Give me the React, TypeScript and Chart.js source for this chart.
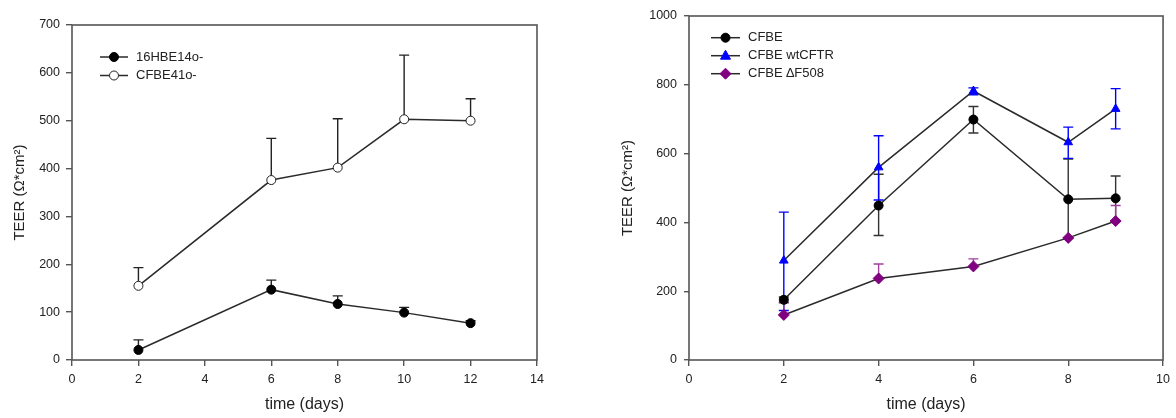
import React, { useEffect, useRef } from "react";
import { Chart, registerables } from "chart.js";

Chart.register(...registerables);

// ---------- data ----------
const leftDays = [2, 6, 8, 10, 12];
const hbeMean = [21, 147, 117, 99, 77];
const hbeErrUp = [21, 20, 17, 11, 5];
const cfbe41Mean = [155, 376, 402, 503, 500];
const cfbe41ErrUp = [38, 87, 102, 134, 46];
const leftXTicks = [0, 2, 4, 6, 8, 10, 12, 14];
const leftYTicks = [0, 100, 200, 300, 400, 500, 600, 700];

const rightDays = [2, 4, 6, 8, 9];
const cfbeMean = [175, 449, 699, 467, 470];
const cfbeErrUp = [8, 91, 38, 117, 65];
const cfbeErrDown = [8, 87, 39, 112, 65];
const wtMean = [289, 560, 782, 633, 730];
const wtErrUp = [141, 92, 9, 44, 59];
const wtErrDown = [145, 95, 11, 47, 58];
const dfMean = [131, 237, 272, 355, 404];
const dfErrUp = [35, 42, 22, 0, 45];
const rightXTicks = [0, 2, 4, 6, 8, 10];
const rightYTicks = [0, 200, 400, 600, 800, 1000];

const FONT = "'Liberation Sans', Arial, sans-serif";
const AXIS_COLOR = "#555";
const TEXT_COLOR = "#222";
const LINE_COLOR = "#2a2a2a";

function toPoints(xs: number[], ys: number[]) {
  return xs.map((x, i) => ({ x, y: ys[i] }));
}

function drawMarker(ctx: CanvasRenderingContext2D, style: string, x: number, y: number, r: number, fill: string, stroke: string) {
  ctx.save();
  ctx.beginPath();
  if (style === "circle") {
    ctx.arc(x, y, r, 0, Math.PI * 2);
  } else if (style === "triangle") {
    ctx.moveTo(x, y - r * 1.1);
    ctx.lineTo(x + r, y + r * 0.7);
    ctx.lineTo(x - r, y + r * 0.7);
    ctx.closePath();
  } else {
    ctx.moveTo(x, y - r);
    ctx.lineTo(x + r, y);
    ctx.lineTo(x, y + r);
    ctx.lineTo(x - r, y);
    ctx.closePath();
  }
  ctx.fillStyle = fill;
  ctx.fill();
  ctx.lineWidth = 1;
  ctx.strokeStyle = stroke;
  ctx.stroke();
  ctx.restore();
}

const errorBarPlugin = {
  id: "errorBars",
  beforeDatasetsDraw(chart: any) {
    const ctx = chart.ctx;
    const xs = chart.scales.x;
    const ys = chart.scales.y;
    chart.data.datasets.forEach((ds: any) => {
      const up: number[] = ds.errUp || [];
      const down: number[] = ds.errDown || [];
      ctx.save();
      ctx.strokeStyle = ds.errColor || LINE_COLOR;
      ctx.lineWidth = 1.4;
      ds.data.forEach((p: any, i: number) => {
        const px = xs.getPixelForValue(p.x);
        const py = ys.getPixelForValue(p.y);
        const cap = 5;
        if (up[i]) {
          const ty = ys.getPixelForValue(p.y + up[i]);
          ctx.beginPath();
          ctx.moveTo(px, py);
          ctx.lineTo(px, ty);
          ctx.moveTo(px - cap, ty);
          ctx.lineTo(px + cap, ty);
          ctx.stroke();
        }
        if (down[i]) {
          const by = ys.getPixelForValue(p.y - down[i]);
          ctx.beginPath();
          ctx.moveTo(px, py);
          ctx.lineTo(px, by);
          ctx.moveTo(px - cap, by);
          ctx.lineTo(px + cap, by);
          ctx.stroke();
        }
      });
      ctx.restore();
    });
  },
};

const framePlugin = {
  id: "frame",
  beforeDatasetsDraw(chart: any) {
    const { ctx, chartArea } = chart;
    ctx.save();
    ctx.strokeStyle = AXIS_COLOR;
    ctx.lineWidth = 1.6;
    ctx.strokeRect(chartArea.left, chartArea.top, chartArea.right - chartArea.left, chartArea.bottom - chartArea.top);
    ctx.restore();
  },
};

const legendPlugin = {
  id: "customLegend",
  afterDraw(chart: any, _args: any, opts: any) {
    const { ctx, chartArea } = chart;
    const x0 = chartArea.left + opts.dx;
    let y = chartArea.top + opts.dy;
    ctx.save();
    ctx.font = `13px ${FONT}`;
    ctx.textBaseline = "middle";
    ctx.textAlign = "left";
    chart.data.datasets.forEach((ds: any) => {
      ctx.strokeStyle = LINE_COLOR;
      ctx.lineWidth = 1.5;
      ctx.beginPath();
      ctx.moveTo(x0, y);
      ctx.lineTo(x0 + opts.len, y);
      ctx.stroke();
      drawMarker(ctx, ds.markerStyle, x0 + opts.len / 2, y, ds.pointRadius, ds.pointBackgroundColor, ds.pointBorderColor);
      ctx.fillStyle = TEXT_COLOR;
      ctx.fillText(ds.label, x0 + opts.len + 8, y);
      y += opts.gap;
    });
    ctx.restore();
  },
};

function makeScales(xTicks: number[], yTicks: number[], yWidth: number, yTitlePad: number, yLabelPad: number, yTickLen: number) {
  const xStep = xTicks[1] - xTicks[0];
  const yStep = yTicks[1] - yTicks[0];
  return {
    x: {
      type: "linear",
      min: xTicks[0],
      max: xTicks[xTicks.length - 1],
      afterFit(axis: any) {
        axis.height = 58;
      },
      ticks: {
        stepSize: xStep,
        color: TEXT_COLOR,
        font: { family: FONT, size: 12.5 },
        padding: 6,
        maxRotation: 0,
        callback: (v: any) => String(v),
      },
      grid: {
        display: true,
        drawOnChartArea: false,
        drawTicks: true,
        tickLength: 6,
        color: AXIS_COLOR,
        lineWidth: 1.4,
      },
      border: { display: false },
      title: {
        display: true,
        text: "time (days)",
        color: TEXT_COLOR,
        font: { family: FONT, size: 16, lineHeight: 1.2 },
        padding: { top: 0, bottom: 4 },
      },
    },
    y: {
      type: "linear",
      min: yTicks[0],
      max: yTicks[yTicks.length - 1],
      afterFit(axis: any) {
        axis.width = yWidth;
      },
      ticks: {
        stepSize: yStep,
        color: TEXT_COLOR,
        font: { family: FONT, size: 12.5 },
        padding: yLabelPad,
        callback: (v: any) => String(v),
      },
      grid: {
        display: true,
        drawOnChartArea: false,
        drawTicks: true,
        tickLength: yTickLen,
        color: AXIS_COLOR,
        lineWidth: 1.4,
      },
      border: { display: false },
      title: {
        display: true,
        text: "TEER (Ω*cm²)",
        color: TEXT_COLOR,
        font: { family: FONT, size: 15, lineHeight: 1.2 },
        padding: { top: yTitlePad, bottom: 0 },
      },
    },
  };
}

function lineDataset(label: string, xs: number[], ys: number[], style: string, r: number, fill: string, stroke: string, errUp: number[], errDown: number[] | null, errColor: string) {
  return {
    label,
    data: toPoints(xs, ys),
    borderColor: LINE_COLOR,
    borderWidth: 1.5,
    pointStyle: style === "diamond" ? "rectRot" : style,
    markerStyle: style,
    pointRadius: r,
    pointBackgroundColor: fill,
    pointBorderColor: stroke,
    pointBorderWidth: 1,
    tension: 0,
    fill: false,
    errUp,
    errDown,
    errColor,
  };
}

function ChartCanvas({ config, width, height, left }: { config: () => any; width: number; height: number; left: number }) {
  const ref = useRef<HTMLCanvasElement | null>(null);
  useEffect(() => {
    if (!ref.current) return;
    const chart = new Chart(ref.current, config());
    return () => chart.destroy();
  }, []);
  return (
    <canvas
      ref={ref}
      width={width}
      height={height}
      style={{ position: "absolute", left, top: 0, width, height }}
    />
  );
}

export default function App() {
  useEffect(() => {
    document.body.style.margin = "0";
  }, []);

  const leftConfig = () => ({
    type: "line",
    data: {
      datasets: [
        lineDataset("16HBE14o-", leftDays, hbeMean, "circle", 4.5, "#000", "#000", hbeErrUp, null, "#222"),
        lineDataset("CFBE41o-", leftDays, cfbe41Mean, "circle", 4.5, "#fff", "#222", cfbe41ErrUp, null, "#222"),
      ],
    },
    options: {
      responsive: false,
      animation: false,
      layout: { padding: { left: 0, top: 25, right: 43, bottom: 0 } },
      scales: makeScales(leftXTicks, leftYTicks, 72, 11, 6, 6),
      plugins: {
        legend: { display: false },
        tooltip: { enabled: false },
        customLegend: { dx: 28, dy: 32, gap: 18.5, len: 28 },
      },
    },
    plugins: [framePlugin, errorBarPlugin, legendPlugin],
  });

  const rightConfig = () => ({
    type: "line",
    data: {
      datasets: [
        lineDataset("CFBE", rightDays, cfbeMean, "circle", 4.5, "#000", "#000", cfbeErrUp, cfbeErrDown, "#333"),
        lineDataset("CFBE wtCFTR", rightDays, wtMean, "triangle", 5, "#0000ff", "#0000ff", wtErrUp, wtErrDown, "#0000ff"),
        lineDataset("CFBE \u2206F508", rightDays, dfMean, "diamond", 5.5, "#800080", "#800080", dfErrUp, null, "#a040a0"),
      ],
    },
    options: {
      responsive: false,
      animation: false,
      layout: { padding: { left: 0, top: 16, right: 11, bottom: 0 } },
      scales: makeScales(rightXTicks, rightYTicks, 109, 39, 7, 5),
      plugins: {
        legend: { display: false },
        tooltip: { enabled: false },
        customLegend: { dx: 22, dy: 21.7, gap: 18, len: 29 },
      },
    },
    plugins: [framePlugin, errorBarPlugin, legendPlugin],
  });

  return (
    <div style={{ position: "fixed", left: 0, top: 0, width: 1176, height: 418, background: "#fff" }}>
      <ChartCanvas config={leftConfig} width={580} height={418} left={0} />
      <ChartCanvas config={rightConfig} width={596} height={418} left={580} />
    </div>
  );
}
